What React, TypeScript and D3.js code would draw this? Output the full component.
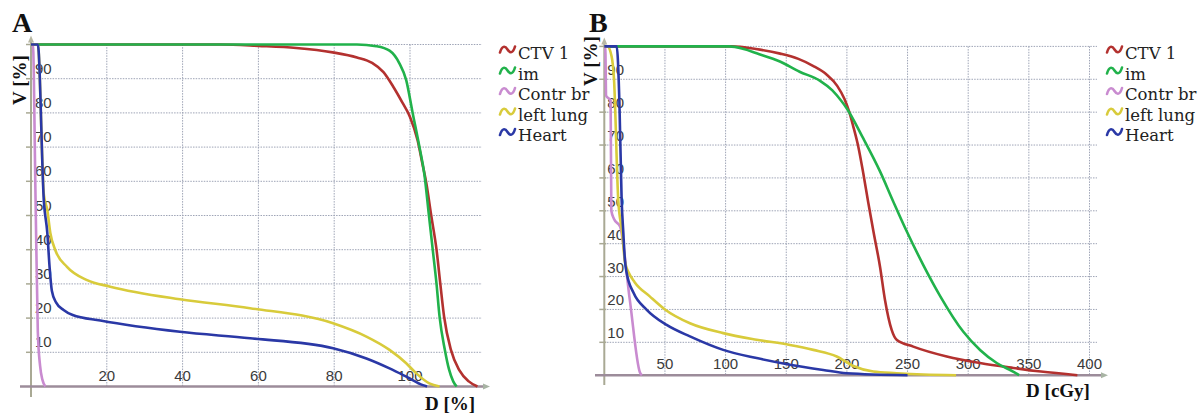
import React from "react";
import * as d3 from "d3";

type P = [number, number];

// ---------- Panel A data (D [%] vs V [%]) ----------
const ctvA: P[] = [[0,100],[50,100],[60,99.6],[70,99],[79.6,97.7],[86,96.2],[90,94.6],[93,91.9],[95.5,87.8],[98,83],[100,78.8],[102,72],[103.3,65],[104.3,59.5],[105.6,50],[107,40],[108,30],[109,20.4],[110.8,10.7],[113,4.8],[115.5,1.5],[117.8,0]];
const imA: P[] = [[0,100],[86,100],[91.1,99.5],[94.6,98.2],[97.2,94.5],[99,89.6],[100.7,80],[102.5,70],[103.8,62],[105,50],[106,40],[107,30],[107.8,20.4],[109.2,10.7],[110.3,5],[111.4,1.5],[112.3,0]];
const contrA: P[] = [[0,100],[0.5,100],[1.2,55],[1.8,16],[2.4,6],[3,2],[3.8,0]];
const lungA: P[] = [[0,100],[1.8,100],[3.4,56],[4.3,51.6],[5.1,44.9],[6.4,39.9],[9.5,35],[14.8,31.1],[20.9,29.2],[39.3,25.5],[57.8,22.9],[79.7,18.5],[88.5,14.6],[94.6,10.7],[99,6.8],[101.6,3.9],[105.1,0.9],[107.8,0]];
const heartA: P[] = [[0,100],[1.8,100],[3.4,54],[4.3,45],[4.9,35],[5.5,28],[6.6,24.6],[8.6,22.4],[11,20.9],[18.3,19.3],[39.3,16],[57.8,14.1],[79.7,11.2],[88.5,8.2],[94.6,5.3],[99,2.9],[103.4,0.4],[104.5,0]];

// ---------- Panel B data (D [cGy] vs V [%]) ----------
const ctvB: P[] = [[0,100],[105,100],[125,99.2],[145,97.8],[160,96.2],[172,94.1],[183,91.5],[192,88],[198,84],[202,80],[205,76],[209.4,69.5],[213.5,61.4],[217.6,52.5],[222,43.5],[227.3,33],[231.4,22.9],[236.9,13.8],[241,10.8],[254.7,8.7],[282.3,5.7],[309.7,3.7],[337.2,2.2],[360,1.1],[390,0]];
const imB: P[] = [[0,100],[103,100],[115,99.2],[125.6,97.9],[144.8,95.4],[161,92.3],[177.6,89.6],[188,86.6],[195,83.6],[199.8,81.2],[213.5,72],[227.3,62],[238,53],[249,44],[263,33.5],[277,24],[296,13.2],[310,7.6],[323.5,3.7],[337,1.1],[342,0]];
const contrB: P[] = [[0,100],[0.8,100],[1.5,85],[5.2,83.5],[5.8,50],[8,47.5],[13,45.2],[21,23],[29.4,0.8],[31,0]];
const lungB: P[] = [[0,100],[2.5,100],[6,97],[8,90],[11.5,53.3],[14.8,43.2],[17,34.5],[20,31.3],[25,28.3],[37.7,23.9],[50,20],[70.6,15.8],[98,12.8],[125.6,10.8],[153,9.2],[172.3,7.7],[191.6,5.7],[205.3,2.8],[221.8,1.1],[241,0.6],[263,0.2],[290,0]];
const heartB: P[] = [[0,100],[10.2,100],[12.4,83.7],[14.3,53.3],[15.7,43.2],[17,35],[18.5,31],[23.9,25.2],[35,19.9],[51.4,15.3],[70.6,11.8],[98,7.7],[125.6,5.2],[153,3.2],[180.5,1.6],[199.8,0.6],[250,0]];

const seriesNames = ["CTV 1", "im", "Contr br", "left lung", "Heart"];
const seriesColors = ["#b3312f", "#21b24b", "#c98bd0", "#d8cb3b", "#2a38a6"];

const yTicks = [10, 20, 30, 40, 50, 60, 70, 80, 90];
const yGrid = [10, 20, 30, 40, 50, 60, 70, 80, 90, 100];
const xTicksA = [20, 40, 60, 80, 100];
const xTicksB = [50, 100, 150, 200, 250, 300, 350, 400];

const seriesA = [ctvA, imA, contrA, lungA, heartA];
const seriesB = [ctvB, imB, contrB, lungB, heartB];

const numFont = "'Liberation Sans', Arial, sans-serif";
const serif = "'Liberation Serif', 'Times New Roman', serif";
const legFont = "'DejaVu Serif', serif";

type PanelProps = {
  data: P[][];
  x: d3.ScaleLinear<number, number>;
  y: d3.ScaleLinear<number, number>;
  xTicks: number[];
  gridRight: number;
  axisLeft: number;
  axisRight: number;
  axisBottom: number;
  xLabelBase: number;
  yLabelDx: number;
  yLabelDy: number;
};

function Panel({ data, x, y, xTicks, gridRight, axisLeft, axisRight, axisBottom, xLabelBase, yLabelDx, yLabelDy }: PanelProps) {
  const x0 = x(0);
  const y0 = y(0);
  const yTop = y(100);
  const line = d3.line<P>().x(d => x(d[0])).y(d => y(d[1])).curve(d3.curveMonotoneX);
  return (
    <g>
      {yGrid.map(v => (
        <line key={"hg" + v} x1={x0} x2={gridRight} y1={y(v)} y2={y(v)} stroke="#9ea4b6" strokeWidth={1} strokeDasharray="1.5 1.2" />
      ))}
      {xTicks.map(v => (
        <line key={"vg" + v} x1={x(v)} x2={x(v)} y1={yTop} y2={y0} stroke="#9ea4b6" strokeWidth={1} strokeDasharray="1.5 1.2" />
      ))}
      {yGrid.map(v => (
        <line key={"yt" + v} x1={x0 - 5} x2={x0 + 2} y1={y(v)} y2={y(v)} stroke="#a9a994" strokeWidth={1.5} />
      ))}
      <line x1={x0} x2={x0} y1={axisBottom} y2={yTop - 4} stroke="#a9a994" strokeWidth={2} />
      <path d={`M${x0 - 3},${yTop - 2} L${x0},${yTop - 9} L${x0 + 3},${yTop - 2} Z`} fill="#b8b8a4" />
      <line x1={axisLeft} x2={axisRight - 5} y1={y0} y2={y0} stroke="#9c8c9a" strokeWidth={2.5} />
      <path d={`M${axisRight - 7},${y0 - 3} L${axisRight},${y0} L${axisRight - 7},${y0 + 3} Z`} fill="#a8b4a4" />
      {yTicks.map(v => (
        <text key={"yl" + v} x={x0 + yLabelDx} y={y(v) - yLabelDy} fontFamily={numFont} fontSize={15} fill="#3a3a3a">{v}</text>
      ))}
      {xTicks.map(v => (
        <text key={"xl" + v} x={x(v)} y={xLabelBase} textAnchor="middle" fontFamily={numFont} fontSize={15} fill="#3a3a3a">{v}</text>
      ))}
      {data.map((s, i) => (
        <path key={"s" + i} d={line(s) || ""} fill="none" stroke={seriesColors[i]} strokeWidth={2.6} strokeLinejoin="round" />
      ))}
    </g>
  );
}

function Legend({ left }: { left: number }) {
  const bases = [58.5, 79.5, 100, 120.5, 141];
  return (
    <g>
      {seriesNames.map((n, i) => {
        const by = bases[i];
        const sy = by - 10;
        return (
          <g key={n}>
            <path d={`M${left},${sy + 4} C${left + 2},${sy - 3} ${left + 5},${sy - 3} ${left + 7.5},${sy + 1} C${left + 10},${sy + 5} ${left + 13},${sy + 5} ${left + 15},${sy - 2}`} fill="none" stroke={seriesColors[i]} strokeWidth={2.6} strokeLinecap="round" />
            <text x={left + 18} y={by} fontFamily={legFont} fontSize={16.5} fill="#222">{n}</text>
          </g>
        );
      })}
    </g>
  );
}

export default function App() {
  const xA = d3.scaleLinear().domain([0, 100]).range([31, 410]);
  const yA = d3.scaleLinear().domain([0, 100]).range([386.5, 44.5]);
  const xB = d3.scaleLinear().domain([0, 400]).range([604.3, 1089.5]);
  const yB = d3.scaleLinear().domain([0, 100]).range([375.2, 46.4]);
  return (
    <svg width={1204} height={413} style={{ position: "absolute", left: 0, top: 0, background: "#fff" }}>
      <rect x={0} y={0} width={1204} height={413} fill="#fff" />
      <Panel data={seriesA} x={xA} y={yA} xTicks={xTicksA} gridRight={482} axisLeft={20} axisRight={490}
        axisBottom={397} xLabelBase={381} yLabelDx={4} yLabelDy={5} />
      <Panel data={seriesB} x={xB} y={yB} xTicks={xTicksB} gridRight={1097} axisLeft={595} axisRight={1108}
        axisBottom={385} xLabelBase={369} yLabelDx={3} yLabelDy={4} />
      <Legend left={500} />
      <Legend left={1107} />
      <text x={12} y={32} fontFamily={serif} fontWeight="bold" fontSize={28} fill="#111">A</text>
      <text x={589} y={32} fontFamily={serif} fontWeight="bold" fontSize={28} fill="#111">B</text>
      <text transform="translate(26,80) rotate(-90)" textAnchor="middle" fontFamily={serif} fontWeight="bold" fontSize={19} fill="#111">V [%]</text>
      <text transform="translate(597,61) rotate(-90)" textAnchor="middle" fontFamily={serif} fontWeight="bold" fontSize={19} fill="#111">V [%]</text>
      <text x={450} y={410} textAnchor="middle" fontFamily={serif} fontWeight="bold" fontSize={19} fill="#111">D [%]</text>
      <text x={1058} y={397} textAnchor="middle" fontFamily={serif} fontWeight="bold" fontSize={19} fill="#111">D [cGy]</text>
    </svg>
  );
}
